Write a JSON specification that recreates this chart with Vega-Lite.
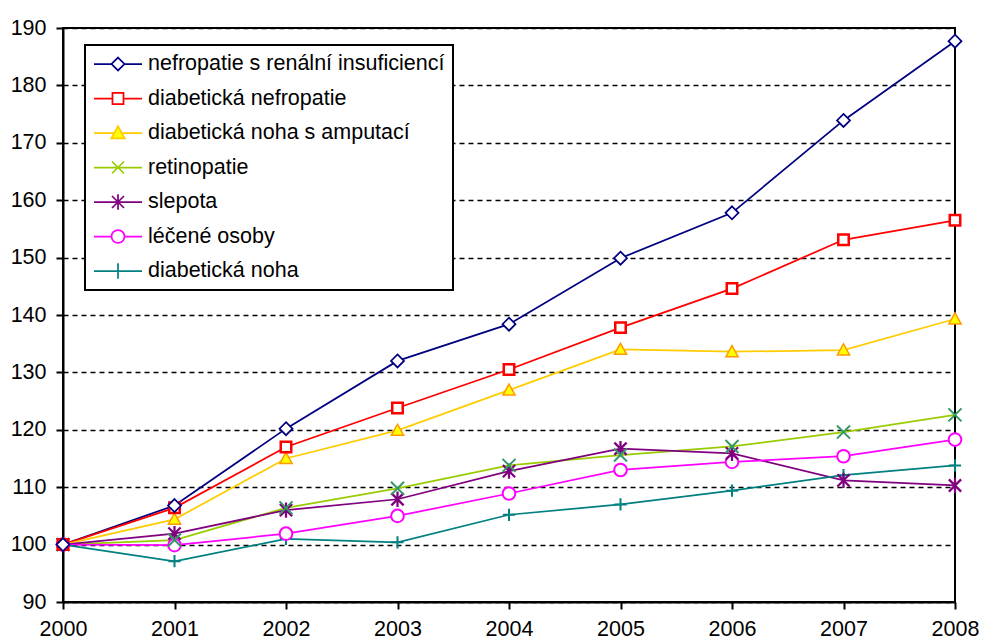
{
  "$schema": "https://vega.github.io/schema/vega-lite/v6.json",
  "width": 892,
  "height": 574,
  "autosize": {"type": "none"},
  "padding": {"left": 63, "top": 28, "right": 26, "bottom": 42},
  "background": "white",
  "config": {
    "view": {"stroke": "black", "strokeWidth": 2},
    "axis": {
      "domainColor": "black", "domainWidth": 2,
      "tickColor": "black", "tickWidth": 2, "tickSize": 7,
      "labelFont": "Liberation Sans", "labelFontSize": 21.5, "labelColor": "black",
      "title": null
    },
    "legend": {
      "orient": "none", "legendX": 22, "legendY": 17,
      "fillColor": "white", "strokeColor": "black", "strokeWidth": 2,
      "padding": 8, "rowPadding": 12.5, "clipHeight": 22, "labelOffset": 5, "labelLimit": 600,
      "labelFont": "Liberation Sans", "labelFontSize": 21.5, "labelColor": "black",
      "symbolSize": 2304, "symbolStrokeWidth": 1.75, "symbolOpacity": 1,
      "symbolFillColor": "white"
    }
  },
  "data": {"values": [
    {"year": 2000, "series": "nefropatie s renální insuficiencí", "value": 100},
    {"year": 2001, "series": "nefropatie s renální insuficiencí", "value": 106.8},
    {"year": 2002, "series": "nefropatie s renální insuficiencí", "value": 120.2},
    {"year": 2003, "series": "nefropatie s renální insuficiencí", "value": 132.0},
    {"year": 2004, "series": "nefropatie s renální insuficiencí", "value": 138.4},
    {"year": 2005, "series": "nefropatie s renální insuficiencí", "value": 149.9},
    {"year": 2006, "series": "nefropatie s renální insuficiencí", "value": 157.8},
    {"year": 2007, "series": "nefropatie s renální insuficiencí", "value": 173.9},
    {"year": 2008, "series": "nefropatie s renální insuficiencí", "value": 187.7},
    {"year": 2000, "series": "diabetická nefropatie", "value": 100},
    {"year": 2001, "series": "diabetická nefropatie", "value": 106.4},
    {"year": 2002, "series": "diabetická nefropatie", "value": 117.0},
    {"year": 2003, "series": "diabetická nefropatie", "value": 123.8},
    {"year": 2004, "series": "diabetická nefropatie", "value": 130.5},
    {"year": 2005, "series": "diabetická nefropatie", "value": 137.8},
    {"year": 2006, "series": "diabetická nefropatie", "value": 144.6},
    {"year": 2007, "series": "diabetická nefropatie", "value": 153.1},
    {"year": 2008, "series": "diabetická nefropatie", "value": 156.5},
    {"year": 2000, "series": "diabetická noha s amputací", "value": 100},
    {"year": 2001, "series": "diabetická noha s amputací", "value": 104.4},
    {"year": 2002, "series": "diabetická noha s amputací", "value": 115.0},
    {"year": 2003, "series": "diabetická noha s amputací", "value": 119.9},
    {"year": 2004, "series": "diabetická noha s amputací", "value": 126.9},
    {"year": 2005, "series": "diabetická noha s amputací", "value": 134.0},
    {"year": 2006, "series": "diabetická noha s amputací", "value": 133.6},
    {"year": 2007, "series": "diabetická noha s amputací", "value": 133.9},
    {"year": 2008, "series": "diabetická noha s amputací", "value": 139.3},
    {"year": 2000, "series": "retinopatie", "value": 100},
    {"year": 2001, "series": "retinopatie", "value": 100.8},
    {"year": 2002, "series": "retinopatie", "value": 106.4},
    {"year": 2003, "series": "retinopatie", "value": 109.8},
    {"year": 2004, "series": "retinopatie", "value": 113.8},
    {"year": 2005, "series": "retinopatie", "value": 115.6},
    {"year": 2006, "series": "retinopatie", "value": 117.1},
    {"year": 2007, "series": "retinopatie", "value": 119.6},
    {"year": 2008, "series": "retinopatie", "value": 122.6},
    {"year": 2000, "series": "slepota", "value": 100},
    {"year": 2001, "series": "slepota", "value": 101.9},
    {"year": 2002, "series": "slepota", "value": 106.0},
    {"year": 2003, "series": "slepota", "value": 107.9},
    {"year": 2004, "series": "slepota", "value": 112.8},
    {"year": 2005, "series": "slepota", "value": 116.7},
    {"year": 2006, "series": "slepota", "value": 115.9},
    {"year": 2007, "series": "slepota", "value": 111.2},
    {"year": 2008, "series": "slepota", "value": 110.3},
    {"year": 2000, "series": "léčené osoby", "value": 100},
    {"year": 2001, "series": "léčené osoby", "value": 99.9},
    {"year": 2002, "series": "léčené osoby", "value": 101.9},
    {"year": 2003, "series": "léčené osoby", "value": 105.0},
    {"year": 2004, "series": "léčené osoby", "value": 108.9},
    {"year": 2005, "series": "léčené osoby", "value": 113.0},
    {"year": 2006, "series": "léčené osoby", "value": 114.4},
    {"year": 2007, "series": "léčené osoby", "value": 115.4},
    {"year": 2008, "series": "léčené osoby", "value": 118.3},
    {"year": 2000, "series": "diabetická noha", "value": 100},
    {"year": 2001, "series": "diabetická noha", "value": 97.1},
    {"year": 2002, "series": "diabetická noha", "value": 101.0},
    {"year": 2003, "series": "diabetická noha", "value": 100.4},
    {"year": 2004, "series": "diabetická noha", "value": 105.2},
    {"year": 2005, "series": "diabetická noha", "value": 107.0},
    {"year": 2006, "series": "diabetická noha", "value": 109.4},
    {"year": 2007, "series": "diabetická noha", "value": 112.1},
    {"year": 2008, "series": "diabetická noha", "value": 113.8}
  ]},
  "encoding": {
    "x": {
      "field": "year", "type": "quantitative",
      "scale": {"domain": [2000, 2008], "nice": false, "zero": false},
      "axis": {"values": [2000, 2001, 2002, 2003, 2004, 2005, 2006, 2007, 2008], "format": "d", "grid": false, "labelPadding": 9, "labelFlush": false, "labelOverlap": false}
    },
    "y": {
      "field": "value", "type": "quantitative",
      "scale": {"domain": [90, 190], "nice": false, "zero": false},
      "axis": {"values": [90, 100, 110, 120, 130, 140, 150, 160, 170, 180, 190], "grid": true, "gridColor": "black", "gridWidth": 1.5, "gridDash": [5, 4], "labelPadding": 10, "labelFlush": false}
    }
  },
  "layer": [
    {
      "mark": {"type": "point", "filled": false, "opacity": 0, "strokeWidth": 1.75},
      "encoding": {
        "color": {
          "field": "series", "type": "nominal",
          "scale": {
            "domain": ["nefropatie s renální insuficiencí", "diabetická nefropatie", "diabetická noha s amputací", "retinopatie", "slepota", "léčené osoby", "diabetická noha"],
            "range": ["#000080", "#FF0000", "#FFCC00", "#99CC00", "#800080", "#FF00FF", "#008080"]
          },
          "legend": {"title": null}
        },
        "fill": {
          "field": "series", "type": "nominal",
          "scale": {
            "domain": ["nefropatie s renální insuficiencí", "diabetická nefropatie", "diabetická noha s amputací", "retinopatie", "slepota", "léčené osoby", "diabetická noha"],
            "range": ["white", "white", "#FFFF00", "transparent", "transparent", "white", "transparent"]
          },
          "legend": {"title": null}
        },
        "shape": {
          "field": "series", "type": "nominal",
          "scale": {
            "domain": ["nefropatie s renální insuficiencí", "diabetická nefropatie", "diabetická noha s amputací", "retinopatie", "slepota", "léčené osoby", "diabetická noha"],
            "range": [
              "M-1,0H-0.27M0.27,0H1M0,-0.27L0.27,0L0,0.27L-0.27,0Z",
              "M-1,0H-0.23M0.23,0H1M-0.23,-0.23H0.23V0.23H-0.23Z",
              "M-1,0H-0.16M0.16,0H1M0,-0.28L0.28,0.22H-0.28Z",
              "M-1,0H1M-0.25,-0.25L0.25,0.25M-0.25,0.25L0.25,-0.25",
              "M-1,0H1M-0.25,-0.25L0.25,0.25M-0.25,0.25L0.25,-0.25M0,-0.32V0.32",
              "M-1,0H-0.27M0.27,0H1M0.27,0A0.27,0.27,0,1,1,-0.27,0A0.27,0.27,0,1,1,0.27,0Z",
              "M-1,0H1M0,-0.32V0.32"
            ]
          },
          "legend": {"title": null}
        }
      }
    },
    {
      "mark": {"type": "line", "strokeWidth": 1.75},
      "encoding": {
        "stroke": {
          "field": "series", "type": "nominal",
          "scale": {
            "domain": ["nefropatie s renální insuficiencí", "diabetická nefropatie", "diabetická noha s amputací", "retinopatie", "slepota", "léčené osoby", "diabetická noha"],
            "range": ["#000080", "#FF0000", "#FFCC00", "#99CC00", "#800080", "#FF00FF", "#008080"]
          },
          "legend": null
        }
      }
    },
    {
      "transform": [{"filter": {"field": "series", "equal": "diabetická noha"}}],
      "mark": {"type": "point", "shape": "M-1,0H1M0,-1V1", "size": 150, "stroke": "#008080", "fill": "transparent", "strokeWidth": 2, "opacity": 1}
    },
    {
      "transform": [{"filter": {"field": "series", "equal": "léčené osoby"}}],
      "mark": {"type": "point", "shape": "M1,0A1,1,0,1,1,-1,0A1,1,0,1,1,1,0Z", "size": 160, "stroke": "#FF00FF", "fill": "white", "strokeWidth": 2, "opacity": 1}
    },
    {
      "transform": [{"filter": {"field": "series", "equal": "slepota"}}],
      "mark": {"type": "point", "shape": "M-1,-1L1,1M-1,1L1,-1M0,-1.25V1.25", "size": 150, "stroke": "#800080", "fill": "transparent", "strokeWidth": 2.25, "opacity": 1}
    },
    {
      "transform": [{"filter": {"field": "series", "equal": "retinopatie"}}],
      "mark": {"type": "point", "shape": "M-1,-1L1,1M-1,1L1,-1", "size": 170, "stroke": "#339966", "fill": "transparent", "strokeWidth": 2, "opacity": 1}
    },
    {
      "transform": [{"filter": {"field": "series", "equal": "diabetická noha s amputací"}}],
      "mark": {"type": "point", "shape": "M0,-1L1,0.8L-1,0.8Z", "size": 150, "stroke": "#FF9900", "fill": "#FFFF00", "strokeWidth": 1.5, "opacity": 1}
    },
    {
      "transform": [{"filter": {"field": "series", "equal": "diabetická nefropatie"}}],
      "mark": {"type": "point", "shape": "M-1,-1H1V1H-1Z", "size": 110, "stroke": "#FF0000", "fill": "white", "strokeWidth": 2.5, "opacity": 1}
    },
    {
      "transform": [{"filter": {"field": "series", "equal": "nefropatie s renální insuficiencí"}}],
      "mark": {"type": "point", "shape": "M0,-1L1,0L0,1L-1,0Z", "size": 169, "stroke": "#000080", "fill": "white", "strokeWidth": 1.75, "opacity": 1}
    }
  ]
}
